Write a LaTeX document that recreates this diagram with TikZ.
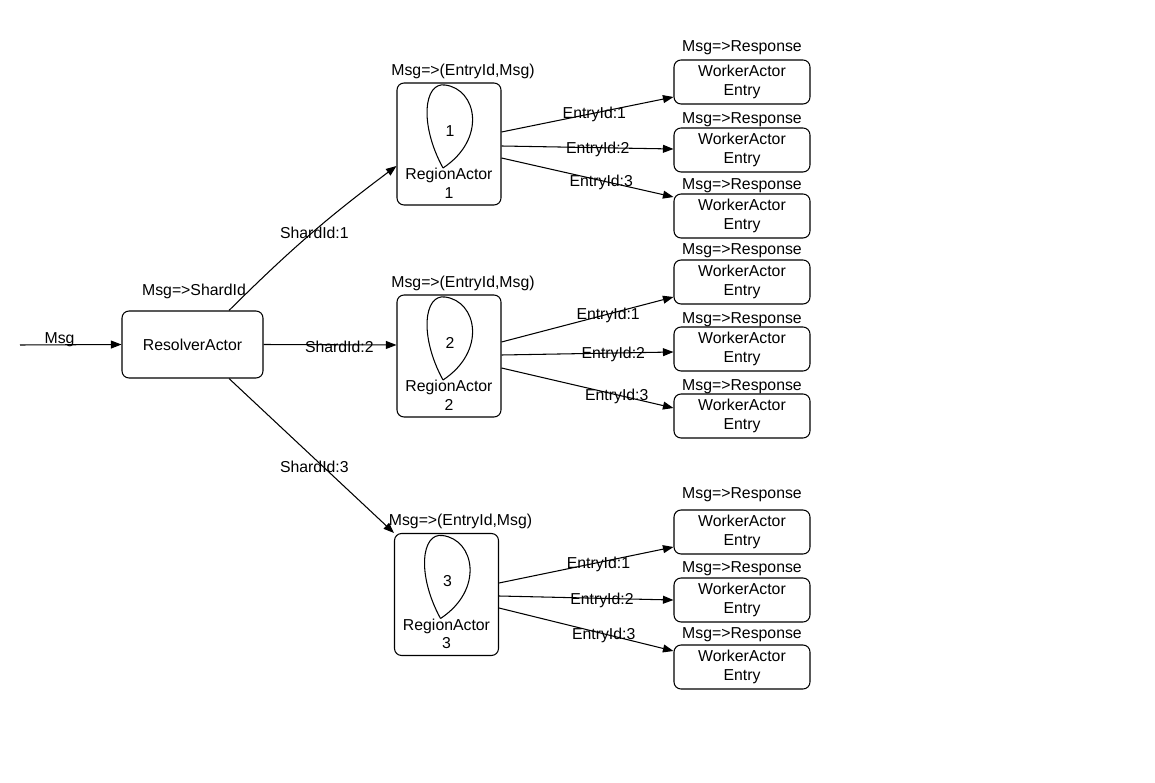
\documentclass[tikz,border=0pt]{standalone}
\usepackage{fontspec}
\setmainfont{Liberation Sans}
\usetikzlibrary{arrows.meta,positioning}

\begin{document}
\begin{tikzpicture}[x=0.02cm,y=-0.02cm,
    font=\fontsize{9}{10.5}\selectfont,
    line width=0.6pt,
    actor/.style={draw,rounded corners=4pt,align=center,inner sep=0pt},
    resolver/.style={actor,minimum width=2.82cm,minimum height=1.34cm},
    region/.style={actor,minimum width=2.08cm,minimum height=2.44cm},
    worker/.style={actor,minimum width=2.72cm,minimum height=0.88cm},
    msg/.style={-{Triangle[length=6pt,width=4.5pt]}},
    tag/.style={inner sep=1pt,yshift=-1pt}]
  \useasboundingbox (0,0) rectangle (1155,783);

  % resolver
  \coordinate (in) at (20,345);
  \node[resolver] (res) at (192.5,344.5) {ResolverActor};
  \node[tag] (resmsg) at (194,290) {Msg=>ShardId};
  \draw[msg] (in) -- node[tag,pos=.39,yshift=4pt] (intag) {Msg} (res.west);

  % region actors
  \foreach \i/\x/\y in {1/449/144, 2/449/356, 3/446.5/594.5} {
      \node[region] (r\i) at (\x,\y) {};
      \node[tag] (rmsg\i) at ([shift={(14,-13)}]r\i.north) {Msg=>(EntryId,Msg)};
      \draw ([shift={(-6,24)}]r\i.center)
        .. controls ([shift={(-30,-20)}]r\i.center) and ([shift={(-25,-62)}]r\i.center) .. ([shift={(-4,-59)}]r\i.center)
        .. controls ([shift={(28,-55)}]r\i.center) and ([shift={(38,-5)}]r\i.center) .. ([shift={(-6,24)}]r\i.center);
      \node[tag] (rnum\i) at ([shift={(1,-15)}]r\i.center) {\i};
      \node[tag,align=center] (rname\i) at ([shift={(0,37.5)}]r\i.center) {RegionActor\\\i};
  }

  \draw[msg] ([shift={(36.5,0)}]res.north) to[bend left=4]
    node[tag,pos=.53] (sh1) {ShardId:1} ([shift={(0,22)}]r1.west);
  \draw[msg] (res.east) -- node[tag,pos=.57] (sh2) {ShardId:2} ([shift={(0,-11)}]r2.west);
  \draw[msg] ([shift={(36.5,0)}]res.south) --
    node[tag,pos=.56,xshift=-4pt] (sh3) {ShardId:3} (r3.north west);

  % worker entries
  \foreach \i/\j/\y/\ly in {1/1/82/-36, 1/2/150/-32, 1/3/216/-32,
                            2/1/282/-33, 2/2/349/-31, 2/3/416/-31,
                            3/1/532/-39, 3/2/600/-33, 3/3/667/-34} {
      \node[worker] (w\i\j) at (742,\y) {WorkerActor\\Entry};
      \node[tag] (wmsg\i\j) at ([shift={(0,\ly)}]w\i\j.center) {Msg=>Response};
  }

  \foreach \i/\j/\s/\e/\p in {1/1/-12/15/.54, 1/2/2/-1/.56, 1/3/14/-19/.58,
                              2/1/-14/15/.62, 2/2/-1/3/.65, 2/3/12/-8/.67,
                              3/1/-11.5/15/.57, 3/2/1.5/0/.59, 3/3/13.5/-16/.60} {
      \draw[msg] ([shift={(0,\s)}]r\i.east) --
        node[tag,pos=\p] (e\i\j) {EntryId:\j} ([shift={(0,\e)}]w\i\j.west);
  }
\end{tikzpicture}
\end{document}
